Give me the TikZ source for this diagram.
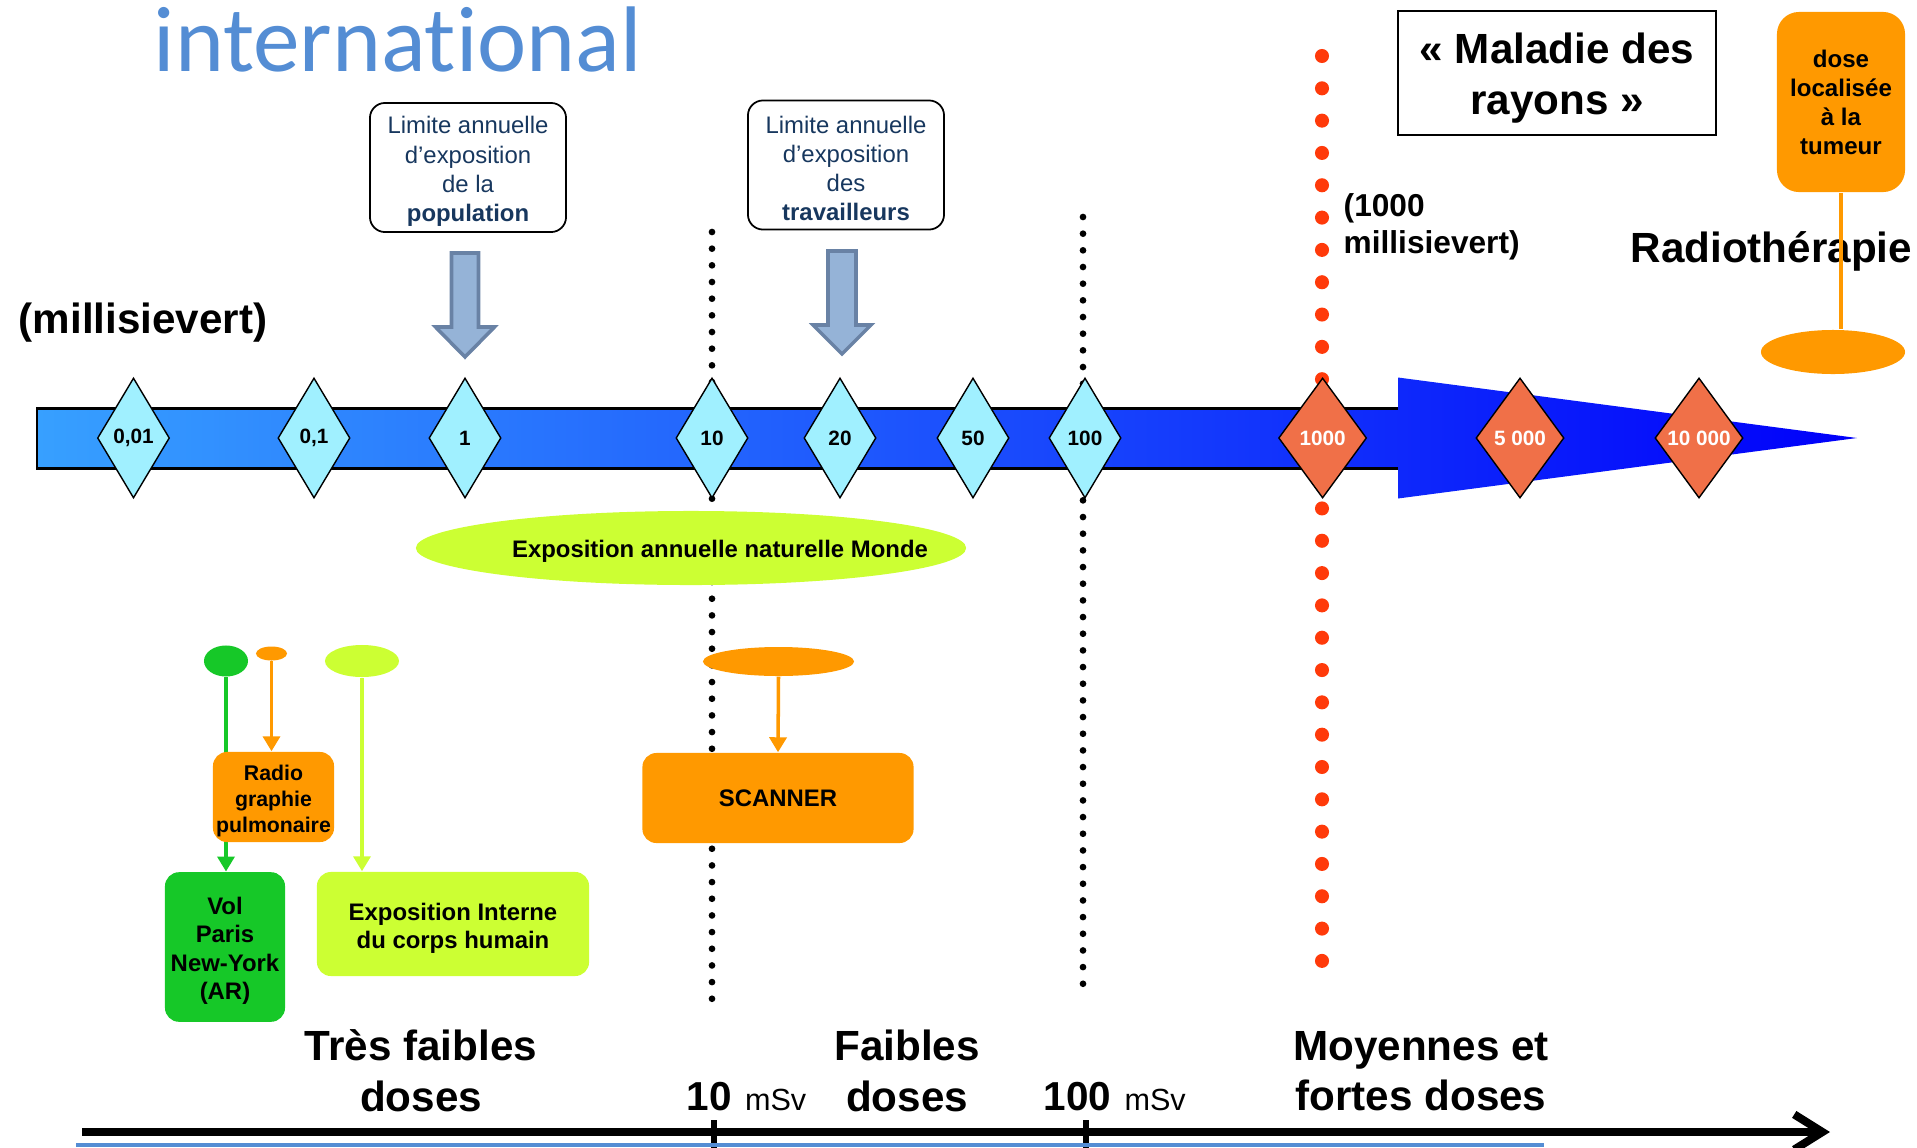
\documentclass[tikz,border=0pt]{standalone}
\usepackage{fontspec}
\setmainfont{Liberation Sans}
\newfontfamily\calibfont[Ligatures=NoCommon]{Carlito}
\usepackage{tikz}
\usetikzlibrary{shapes.geometric, arrows.meta, positioning}

\definecolor{bandlight}{RGB}{55,160,255}
\definecolor{banddark}{RGB}{0,0,250}
\definecolor{diamcyan}{RGB}{160,240,255}
\definecolor{diamred}{RGB}{240,112,72}
\definecolor{doseorange}{RGB}{255,153,0}
\definecolor{volgreen}{RGB}{22,200,40}
\definecolor{limegreen}{RGB}{204,255,51}
\definecolor{limfill}{RGB}{149,179,215}
\definecolor{limedge}{RGB}{105,130,165}
\definecolor{navytxt}{RGB}{23,55,94}
\definecolor{titleblue}{RGB}{84,141,212}
\definecolor{reddot}{RGB}{255,58,10}

\tikzstyle{cyandiam} = [diamond, draw=black, line width=0.4pt, fill=diamcyan, minimum width=0.72cm, minimum height=1.2cm, inner sep=0pt, font=\bfseries\fontsize{5.9}{7}\selectfont]
\tikzstyle{reddiam} = [cyandiam, fill=diamred, minimum width=0.88cm, text=white]
\tikzstyle{limitbox} = [draw=black, line width=0.5pt, rounded corners=0.15cm, minimum width=1.96cm, minimum height=1.29cm, inner sep=0pt, align=center, text=navytxt, font=\fontsize{6.8}{8.25}\selectfont]
\tikzstyle{limarrow} = [fill=limfill, draw=limedge, line width=1pt]
\tikzstyle{infobox} = [rounded corners=0.14cm, inner sep=0pt, align=center, font=\bfseries\fontsize{6.8}{8.1}\selectfont]
\tikzstyle{spot} = [ellipse, inner sep=0pt]
\tikzstyle{feed} = [line width=1pt, -{Triangle[length=0.15cm, width=0.17cm]}]
\tikzstyle{blackdots} = [line width=1.9pt, line cap=round, dash pattern=on 0pt off 4.74pt]
\tikzstyle{reddots} = [reddot, line width=4pt, line cap=round, dash pattern=on 0pt off 9.19pt]
\tikzstyle{bigtxt} = [inner sep=0pt, font=\bfseries\fontsize{12}{14.4}\selectfont]

\begin{document}
\begin{tikzpicture}[x=0.01cm, y=-0.01cm]
    \useasboundingbox (0,0) rectangle (1917,1148);
    % title and unit
    \node[anchor=base west, inner sep=0pt, text=titleblue, font=\calibfont\fontsize{26.5}{30}\selectfont] (title) at (153,71) {international};
    \node[bigtxt, anchor=base west] (unit) at (18,333) {(millisievert)};
    % annual limits
    \node[limitbox] (limpop) at (468,167.5) {\rule{0pt}{7.1pt}Limite annuelle\\d’exposition\\de la\\\textbf{population}};
    \node[limitbox] (limtrav) at (846,165) {\rule{0pt}{7.1pt}Limite annuelle\\d’exposition\\des\\\textbf{travailleurs}};
    \draw[limarrow] (451.5,253) -- (478.5,253) -- (478.5,327) -- (494.5,327) -- (465,357) -- (435.5,327) -- (451.5,327) -- cycle;
    \draw[limarrow] (828,251) -- (856,251) -- (856,325) -- (871,325) -- (842,354) -- (813,325) -- (828,325) -- cycle;
    % thresholds
    \draw[blackdots] (712,232) -- (712,1002);
    \draw[blackdots] (1083,217) -- (1083,990);
    \draw[reddots] (1322,56) -- (1322,970);
    % dose scale
    \shade[left color=bandlight, right color=banddark] (37,408.5) -- (1398,408.5) -- (1398,377.5) -- (1857,438) -- (1398,498.5) -- (1398,468.5) -- (37,468.5) -- cycle;
    \draw[line width=0.6pt] (1398,408.5) -- (37,408.5) -- (37,468.5) -- (1398,468.5);
    \node[cyandiam] (d001) at (133.5,438) {0,01};
    \node[cyandiam] (d01) at (314,438) {0,1};
    \node[cyandiam] (d1) at (465,438) {1};
    \node[cyandiam] (d10) at (712,438) {10};
    \node[cyandiam] (d20) at (840,438) {20};
    \node[cyandiam] (d50) at (973,438) {50};
    \node[cyandiam] (d100) at (1085,438) {100};
    \node[reddiam] (d1000) at (1322.6,438) {1000};
    \node[reddiam] (d5000) at (1520,438) {5 000};
    \node[reddiam] (d10000) at (1699,438) {10 000};
    % high doses
    \node[anchor=west, align=left, inner sep=0pt, font=\bfseries\fontsize{9}{10.5}\selectfont] (kilo) at (1343,227) {(1000\\millisievert)};
    \node[draw=black, line width=0.7pt, minimum width=3.18cm, minimum height=1.24cm, inner sep=0pt, align=center, font=\bfseries\fontsize{12}{14.6}\selectfont] (maladie) at (1557,73) {\rule{0pt}{11.5pt}« Maladie des\\rayons »};
    \node[bigtxt, anchor=base west] (radiother) at (1630,262) {Radiothérapie};
    \node[infobox, fill=doseorange, minimum width=1.28cm, minimum height=1.8cm, rounded corners=0.22cm, font=\bfseries\fontsize{6.85}{8.25}\selectfont] (dosebox) at (1841,102) {dose\\localisée\\à la\\tumeur};
    \node[spot, fill=doseorange, minimum width=1.44cm, minimum height=0.44cm] (ovRadiother) at (1833,352) {};
    \draw[doseorange, line width=1pt] (dosebox.south) -- (dosebox.south |- ovRadiother.north);
    % natural exposure
    \node[spot, fill=limegreen, minimum width=5.5cm, minimum height=0.74cm] (monde) at (691,548) {};
    \node[anchor=base, inner sep=0pt, font=\bfseries\fontsize{6.8}{8}\selectfont] (mondetxt) at (720,557) {Exposition annuelle naturelle Monde};
    % examples
    \node[spot, fill=volgreen, minimum width=0.44cm, minimum height=0.31cm] (ovVol) at (226,661) {};
    \node[spot, fill=doseorange, minimum width=0.31cm, minimum height=0.14cm] (ovRadio) at (271.5,653.5) {};
    \node[spot, fill=limegreen, minimum width=0.74cm, minimum height=0.32cm] (ovInterne) at (362,661) {};
    \node[spot, fill=doseorange, minimum width=1.51cm, minimum height=0.29cm] (ovScan) at (778.5,661.5) {};
    \node[infobox, fill=volgreen, minimum width=1.2cm, minimum height=1.495cm] (boxVol) at (225,947) {\rule{0pt}{7.1pt}Vol\\Paris\\New-York\\(AR)};
    \draw[feed, volgreen] (ovVol.south) -- (ovVol.south |- boxVol.north);
    \node[infobox, fill=doseorange, minimum width=1.21cm, minimum height=0.9cm, font=\bfseries\fontsize{6.05}{7.4}\selectfont] (boxRadio) at (273.5,797) {\rule{0pt}{6.4pt}Radio\\graphie\\pulmonaire};
    \draw[feed, doseorange] (ovRadio.south) -- (ovRadio.south |- boxRadio.north);
    \node[infobox, fill=limegreen, minimum width=2.72cm, minimum height=1.04cm] (boxInterne) at (453,924) {\rule{0pt}{7.3pt}Exposition Interne\\du corps humain};
    \draw[feed, limegreen] (ovInterne.south) -- (ovInterne.south |- boxInterne.north);
    \node[infobox, fill=doseorange, minimum width=2.71cm, minimum height=0.9cm] (boxScan) at (778,798) {SCANNER};
    \draw[feed, doseorange] (ovScan.south) -- (boxScan.north);
    % dose ranges
    \node[bigtxt, align=center] (tres) at (421,1071) {Très faibles\\doses};
    \node[bigtxt, align=center] (faibles) at (907,1071) {Faibles\\doses};
    \node[bigtxt, align=center] (moyennes) at (1421,1071) {Moyennes et\\fortes doses};
    \node[bigtxt, anchor=base west, font=\bfseries\fontsize{11.5}{14}\selectfont] (ten) at (686,1110.5) {10};
    \node[anchor=base west, inner sep=0pt, font=\fontsize{8.7}{10}\selectfont] (tenunit) at ([xshift=0.12cm]ten.base east) {mSv};
    \node[bigtxt, anchor=base west, font=\bfseries\fontsize{11.5}{14}\selectfont] (hundred) at (1043,1110.5) {100};
    \node[anchor=base west, inner sep=0pt, font=\fontsize{8.7}{10}\selectfont] (hundredunit) at ([xshift=0.12cm]hundred.base east) {mSv};
    \coordinate (axstart) at (82,1132);
    \coordinate (axend) at (1830,1132);
    \draw[line width=2.3pt, -{Straight Barb[length=8pt, width=10pt]}] (axstart) -- (axend);
    \draw[line width=1.7pt] (714,1120) -- (714,1148);
    \draw[line width=1.7pt] (1086,1120) -- (1086,1148);
    \draw[titleblue, line width=1.1pt] (76,1145) -- (1544,1145);
\end{tikzpicture}
\end{document}
